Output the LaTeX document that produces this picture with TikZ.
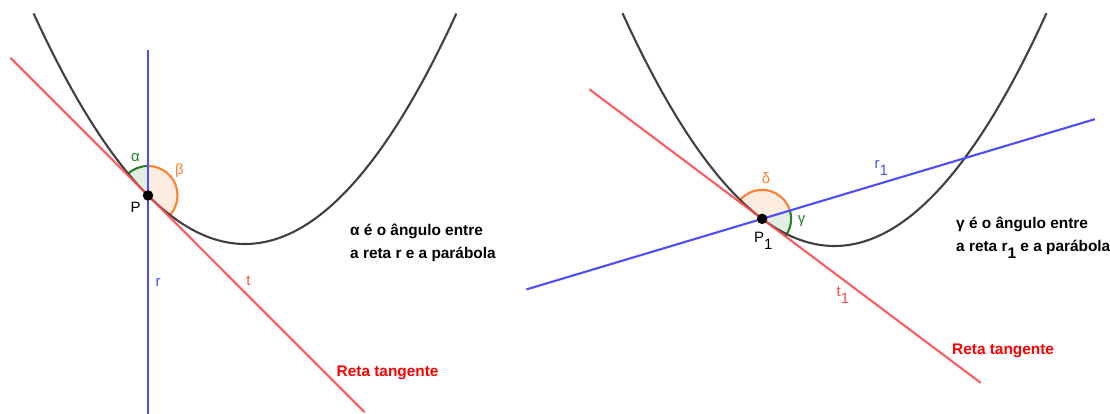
\documentclass[tikz,border=0pt]{standalone}
\usepackage{fontspec}
\setmainfont{Liberation Sans}
\definecolor{pblue}{RGB}{77,77,255}
\definecolor{pred}{RGB}{255,77,77}
\definecolor{tred}{RGB}{255,0,0}
\definecolor{pgreen}{RGB}{40,128,40}
\definecolor{porange}{RGB}{255,128,50}
\definecolor{gfill}{RGB}{226,238,226}
\definecolor{ofill}{RGB}{253,236,224}
\definecolor{parab}{RGB}{64,64,64}
\newcommand\subnum[1]{\raisebox{-0.45em}{#1}}
\begin{document}
\begin{tikzpicture}[x=1pt,y=1pt,
  curve/.style={line width=2.1pt, draw=parab},
  redln/.style={line width=2.1pt, draw=pred, opacity=0.92},
  blueln/.style={line width=2.1pt, draw=pblue},
  garc/.style={line width=2.1pt, draw=pgreen},
  oarc/.style={line width=2.1pt, draw=porange},
  lbl/.style={font=\fontsize{15}{15}\selectfont, inner sep=0pt},
  note/.style={font=\fontsize{15.4}{15.4}\selectfont\bfseries, inner sep=0pt, anchor=base west},
  ptdot/.style={circle, fill=black, inner sep=0pt, minimum size=10.5pt}]
\useasboundingbox (0,0) rectangle (1110,414);

% ---------------- left panel ----------------
\coordinate (P) at (148,218.55);
\coordinate (tA) at (10.6,356.1);
\coordinate (tB) at (364.6,1.73);
\coordinate (rA) at (148,364);
\coordinate (rB) at (148,0);
\fill[gfill] (P) -- ++(90:29.5) arc[start angle=90,end angle=135,radius=29.5] -- cycle;
\fill[ofill] (P) -- ++(-45:29.5) arc[start angle=-45,end angle=90,radius=29.5] -- cycle;
\draw[garc] (P) ++(90:29.5) arc[start angle=90,end angle=135,radius=29.5];
\draw[oarc] (P) ++(-45:29.5) arc[start angle=-45,end angle=90,radius=29.5];
\draw[curve] plot[domain=33.6:456.4, samples=140, smooth] (\x, {170+(0.07183*(\x-245))^2});
\draw[blueln] (rA) -- (rB);
\draw[redln] (tA) -- (tB);
\node[ptdot] (Pd) at (P) {};

\node[lbl, text=pgreen] (la) at (135.4,256) {α};
\node[lbl, text=porange] (lb) at (179.5,243) {β};
\node[lbl, anchor=base west] (lP) at (130.3,201.7) {P};
\node[lbl, anchor=base west, text=pblue] (lr) at (155.5,127.3) {r};
\node[lbl, anchor=base west, text=pred] (lt) at (246.2,128.3) {t};
\node[note, text=tred] (rtL) at (336.5,37) {Reta tangente};
\node[note] (nL1) at (350,178) {α é o ângulo entre};
\node[note] (nL2) at (350,155) {a reta r e a parábola};

% ---------------- right panel ----------------
\coordinate (Q) at (762.1,195.15);
\coordinate (uA) at (589.3,324.75);
\coordinate (uB) at (980.8,31.1);
\coordinate (sA) at (526.4,124.55);
\coordinate (sB) at (1094.8,294.8);
\fill[ofill] (Q) -- ++(16.68:29) arc[start angle=16.68,end angle=143.13,radius=29] -- cycle;
\fill[gfill] (Q) -- ++(-36.87:29) arc[start angle=-36.87,end angle=16.68,radius=29] -- cycle;
\draw[oarc] (Q) ++(16.68:29) arc[start angle=16.68,end angle=143.13,radius=29];
\draw[garc] (Q) ++(-36.87:29) arc[start angle=-36.87,end angle=16.68,radius=29];
\draw[curve] plot[domain=622.5:1046.5, samples=140, smooth] (\x, {168+(0.07197*(\x-834.5))^2});
\draw[blueln] (sA) -- (sB);
\draw[redln] (uA) -- (uB);
\node[ptdot] (Qd) at (Q) {};

\node[lbl, text=porange] (ld) at (766,235.7) {δ};
\node[lbl, text=pgreen] (lg) at (801.5,193) {γ};
\node[lbl, anchor=base west] (lQ) at (754,171.7) {P\subnum{1}};
\node[lbl, anchor=base west, text=pblue] (lr1) at (874.5,245.7) {r\subnum{1}};
\node[lbl, anchor=base west, text=pred] (lt1) at (836.5,117.3) {t\subnum{1}};
\node[note, text=tred] (rtR) at (952,59.5) {Reta tangente};
\node[note] (nR1) at (956,185) {γ é o ângulo entre};
\node[note] (nR2) at (956,162) {a reta r\subnum{1} e a parábola};
\end{tikzpicture}
\end{document}
